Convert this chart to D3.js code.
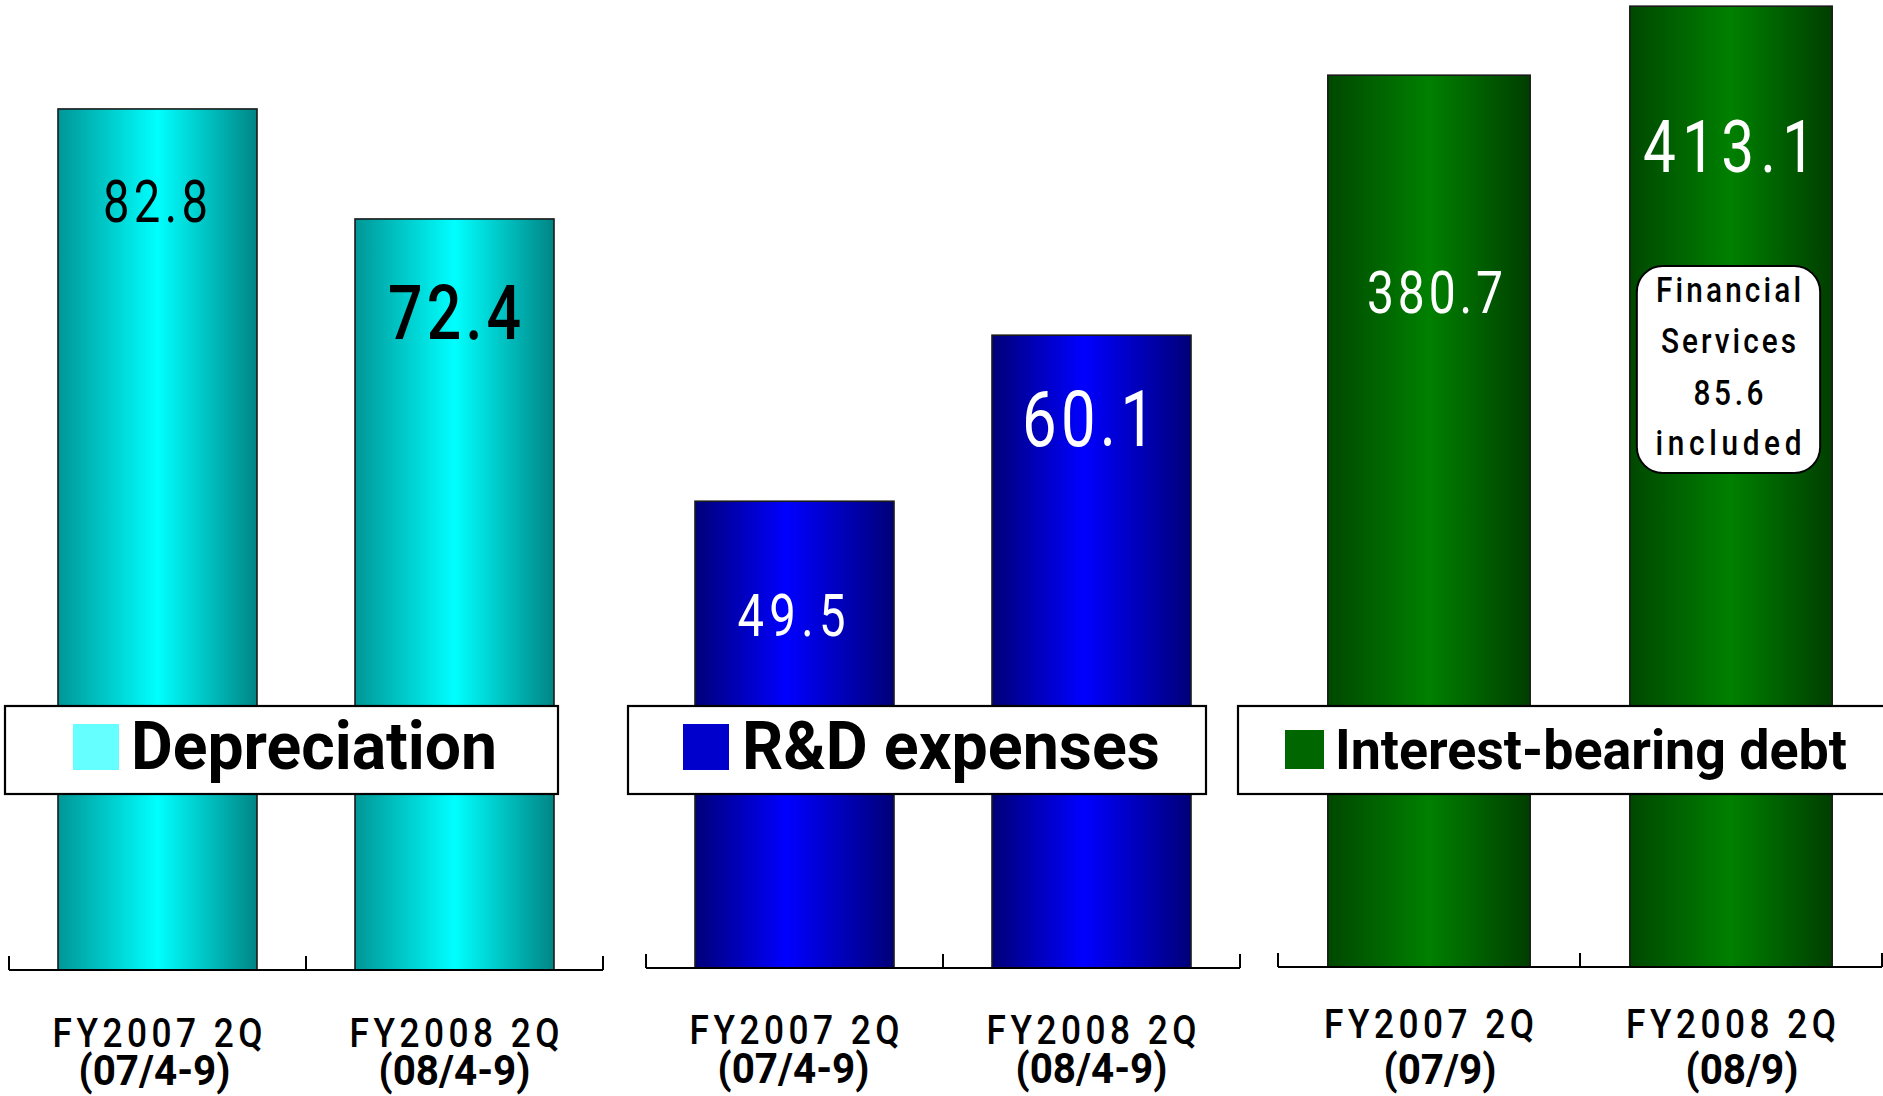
<!DOCTYPE html>
<html>
<head>
<meta charset="utf-8">
<script src="https://cdn.jsdelivr.net/npm/d3@7"></script>
<style>
  html, body { margin: 0; padding: 0; background: #ffffff; }
  svg { display: block; }
  text { font-family: Roboto, "Liberation Sans", sans-serif; }
</style>
</head>
<body>
<svg id="chart" width="1883" height="1096"></svg>
<script>
// ---------------- data ----------------
const panelTitles = ["Depreciation", "R&D expenses", "Interest-bearing debt"];
const categories = ["FY2007 2Q", "FY2008 2Q"];
const periodsFlow = ["(07/4-9)", "(08/4-9)"];
const periodsStock = ["(07/9)", "(08/9)"];
const depreciation = [82.8, 72.4];
const rdExpenses = [49.5, 60.1];
const interestDebt = [380.7, 413.1];
const noteLines = ["Financial", "Services", "85.6", "included"];

// ---------------- layout / style ----------------
const layout = [
  { values: depreciation, periods: periodsFlow, range: [9, 603], base: 970, domain: [1.4, 93.1],
    grad: ["#009696", "#00ffff", "#008585"], swatch: "#66ffff", labelColor: "#000",
    box: [5, 558], sw: [73, 724, 46, 46], title: { x: 131, w: 366, fs: 66 },
    lab: [ { dy: 113, dx: -2, fs: 59, w: 105, fw: 400 }, { dy: 120, dx: 0, fs: 76, w: 133, fw: 500 } ],
    cat1: 1047, cat2: 1085, cat2dx: [-3, 0], cat2w: [152, 152] },
  { values: rdExpenses, periods: periodsFlow, range: [646, 1240], base: 968, domain: [19.7, 81.5],
    grad: ["#000078", "#0000ff", "#000078"], swatch: "#0000cc", labelColor: "#fff",
    box: [628, 1206], sw: [683, 724, 46, 46], title: { x: 742, w: 418, fs: 66 },
    lab: [ { dy: 135, dx: -3, fs: 59, w: 108, fw: 400 }, { dy: 111, dx: -3, fs: 77, w: 133, fw: 400 } ],
    cat1: 1044, cat2: 1083, cat2dx: [-1, 0], cat2w: [152, 152] },
  { values: interestDebt, periods: periodsStock, range: [1278, 1882], base: 967, domain: [-38, 416],
    grad: ["#004800", "#008000", "#003e00"], swatch: "#006600", labelColor: "#fff",
    box: [1238, 1900], sw: [1285, 730, 39, 39], title: { x: 1335, w: 512, fs: 55 },
    lab: [ { dy: 238, dx: 6, fs: 60, w: 136, fw: 400 }, { dy: 166, dx: -2, fs: 73, w: 172, fw: 400 } ],
    cat1: 1038, cat2: 1084, cat2dx: [11, 11], cat2w: [113, 113] }
];

const svg = d3.select("#chart");
const defs = svg.append("defs");

// narrow, letter-spaced text fitted to a width, centred on cx
function spacedText(parent, str, o) {
  const g = parent.append("g")
    .attr("transform", `translate(${o.cx - o.w / 2},${o.y}) scale(${o.sx},1)`);
  const t = g.append("text").attr("x", 0).attr("y", 0)
    .attr("font-size", o.fs).attr("font-weight", o.fw).attr("fill", o.fill)
    .text(str);
  const W = t.node().getComputedTextLength();
  const n = str.length;
  const ls = n > 1 ? (o.w / o.sx - W) / (n - 1) : 0;
  t.attr("letter-spacing", ls);
  return t;
}

layout.forEach((p, pi) => {
  const g = svg.append("g");
  const x = d3.scaleBand().domain(categories).range(p.range).paddingInner(0.33).paddingOuter(0.165);
  const y = d3.scaleLinear().domain(p.domain).range([p.base, 0]);

  const gid = "grad" + pi;
  const lg = defs.append("linearGradient").attr("id", gid).attr("x1", "0%").attr("x2", "100%").attr("y1", "0%").attr("y2", "0%");
  lg.append("stop").attr("offset", "0%").attr("stop-color", p.grad[0]);
  lg.append("stop").attr("offset", pi === 1 ? "46%" : "50%").attr("stop-color", p.grad[1]);
  lg.append("stop").attr("offset", "100%").attr("stop-color", p.grad[2]);

  // bars
  g.selectAll("rect.bar").data(p.values).join("rect")
    .attr("class", "bar")
    .attr("x", (d, i) => x(categories[i]))
    .attr("y", d => y(d))
    .attr("width", x.bandwidth())
    .attr("height", d => p.base - y(d))
    .attr("fill", `url(#${gid})`)
    .attr("stroke", "#1a1a1a")
    .attr("stroke-width", 1.6);

  // axis: baseline with ticks at band boundaries (pointing up)
  const ax = g.append("g");
  ax.append("line").attr("x1", p.range[0]).attr("x2", p.range[1]).attr("y1", p.base).attr("y2", p.base)
    .attr("stroke", "#000").attr("stroke-width", 2.2);
  const tickXs = d3.range(categories.length + 1).map(i => p.range[0] + i * x.step());
  ax.selectAll("line.tick").data(tickXs).join("line").attr("class", "tick")
    .attr("x1", d => d).attr("x2", d => d).attr("y1", p.base).attr("y2", p.base - 14)
    .attr("stroke", "#000").attr("stroke-width", 2);

  // category labels
  categories.forEach((c, i) => {
    spacedText(g, c, { cx: x(c) + x.bandwidth() / 2, y: p.cat1, fs: 40, fw: 500, w: 210, sx: 0.88, fill: "#000" });
  });
  g.selectAll("text.cat2").data(p.periods).join("text").attr("class", "cat2")
    .attr("x", (d, i) => x(categories[i]) + x.bandwidth() / 2 + p.cat2dx[i]).attr("y", p.cat2)
    .attr("text-anchor", "middle").attr("font-size", 43).attr("font-weight", 700)
    .attr("textLength", (d, i) => p.cat2w[i]).attr("lengthAdjust", "spacingAndGlyphs").attr("fill", "#000")
    .text(d => d);

  // legend box
  const lgBox = g.append("g");
  lgBox.append("rect").attr("x", p.box[0]).attr("y", 706).attr("width", p.box[1] - p.box[0]).attr("height", 88)
    .attr("fill", "#fff").attr("stroke", "#000").attr("stroke-width", 2.2);
  lgBox.append("rect").attr("x", p.sw[0]).attr("y", p.sw[1]).attr("width", p.sw[2]).attr("height", p.sw[3])
    .attr("fill", p.swatch);
  lgBox.append("text").attr("x", p.title.x).attr("y", 769)
    .attr("font-size", p.title.fs).attr("font-weight", 700).attr("fill", "#000")
    .attr("textLength", p.title.w).attr("lengthAdjust", "spacingAndGlyphs")
    .text(panelTitles[pi]);

  // value labels
  p.values.forEach((v, i) => {
    const L = p.lab[i];
    spacedText(g, v.toFixed(1), {
      cx: x(categories[i]) + x.bandwidth() / 2 + L.dx, y: y(v) + L.dy,
      fs: L.fs, fw: L.fw, w: L.w, sx: 0.8, fill: p.labelColor
    });
  });

  // callout on the last bar of the debt panel
  if (pi === 2) {
    const bx = x(categories[1]);
    const cg = g.append("g");
    const cw = x.bandwidth() - 19;
    cg.append("rect").attr("x", bx + 7).attr("y", 266).attr("width", cw).attr("height", 207)
      .attr("rx", 26).attr("ry", 26).attr("fill", "#fff").attr("stroke", "#000").attr("stroke-width", 2);
    const noteW = [145, 135, 70, 146];
    const noteY = [302, 353, 405, 455];
    noteLines.forEach((s, i) => {
      spacedText(cg, s, { cx: bx + 7 + cw / 2, y: noteY[i], fs: 35, fw: 500, w: noteW[i], sx: 0.85, fill: "#000" });
    });
  }
});
</script>
</body>
</html>
